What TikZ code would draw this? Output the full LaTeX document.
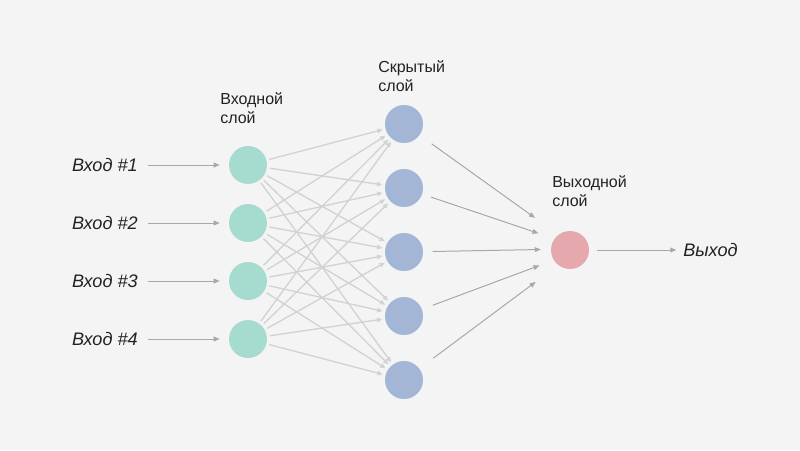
\documentclass[tikz,border=0pt]{standalone}
\usepackage{fontspec}
\setmainfont{Liberation Sans}
\usetikzlibrary{arrows.meta}
\usepackage{xcolor}

\definecolor{bgcol}{HTML}{F4F4F4}
\definecolor{incol}{HTML}{A6DCCF}
\definecolor{hidcol}{HTML}{A4B6D6}
\definecolor{outcol}{HTML}{E5A8AC}
\definecolor{edgelight}{HTML}{D2D2D2}
\definecolor{edgedark}{HTML}{A8A8A8}
\definecolor{textcol}{HTML}{222222}

\tikzset{
	neuron/.style={circle, minimum size=28.5pt, inner sep=0pt},
	layertext/.style={font=\fontsize{12}{14.3}\selectfont, text=textcol, align=left, anchor=north west, inner sep=0pt},
	signaltext/.style={font=\fontsize{13.6}{16}\selectfont\itshape, text=textcol, inner sep=0pt, text depth=0pt},
	tip/.style={-{Triangle[length=4.5pt,width=3.6pt]}}
}

\begin{document}
\begin{tikzpicture}[x=0.75pt,y=-0.75pt]

	\fill[bgcol] (0,0) rectangle (800,450);
	\useasboundingbox (0,0) rectangle (800,450);

	\node[layertext] (inlayer) at (220,92) {Входной\\слой};
	\node[layertext] (hidlayer) at (378,60) {Скрытый\\слой};
	\node[layertext] (outlayer) at (552,175) {Выходной\\слой};

	\foreach \i/\y in {1/165,2/223,3/281,4/339}{
		\node[neuron, fill=incol] (in\i) at (248,\y) {};
		\node[signaltext, anchor=east] (sig\i) at (138,\y) {Вход \#\i};
		\draw[tip, edgedark, line width=0.75pt, shorten <=7.5pt, shorten >=6.75pt] (sig\i) -- (in\i);
	}

	\foreach \j/\y in {1/124,2/188,3/252,4/316,5/380}
		\node[neuron, fill=hidcol] (hid\j) at (404,\y) {};

	\node[neuron, fill=outcol] (out) at (570,250) {};
	\node[signaltext, anchor=west] (res) at (683,250) {Выход};

	\foreach \i in {1,...,4}
		\foreach \j in {1,...,5}
			\draw[-{Triangle[length=4pt,width=3.4pt]}, edgelight, line width=1pt, shorten <=2pt, shorten >=2pt] (in\i) -- (hid\j);

	%\draw (hid\j) -- (out);
	\foreach \j/\a/\s/\e in {1/127/11/21.6, 2/144/7/12.6, 3/178/7/7.5, 4/212/8.6/11.3, 5/232/13/21}
		\draw[tip, edgedark, line width=0.75pt, shorten <=\s pt, shorten >=\e pt] (hid\j) -- (out.\a);

	\draw[tip, edgedark, line width=0.75pt, shorten <=6pt, shorten >=5pt] (out) -- (res);

\end{tikzpicture}
\end{document}
